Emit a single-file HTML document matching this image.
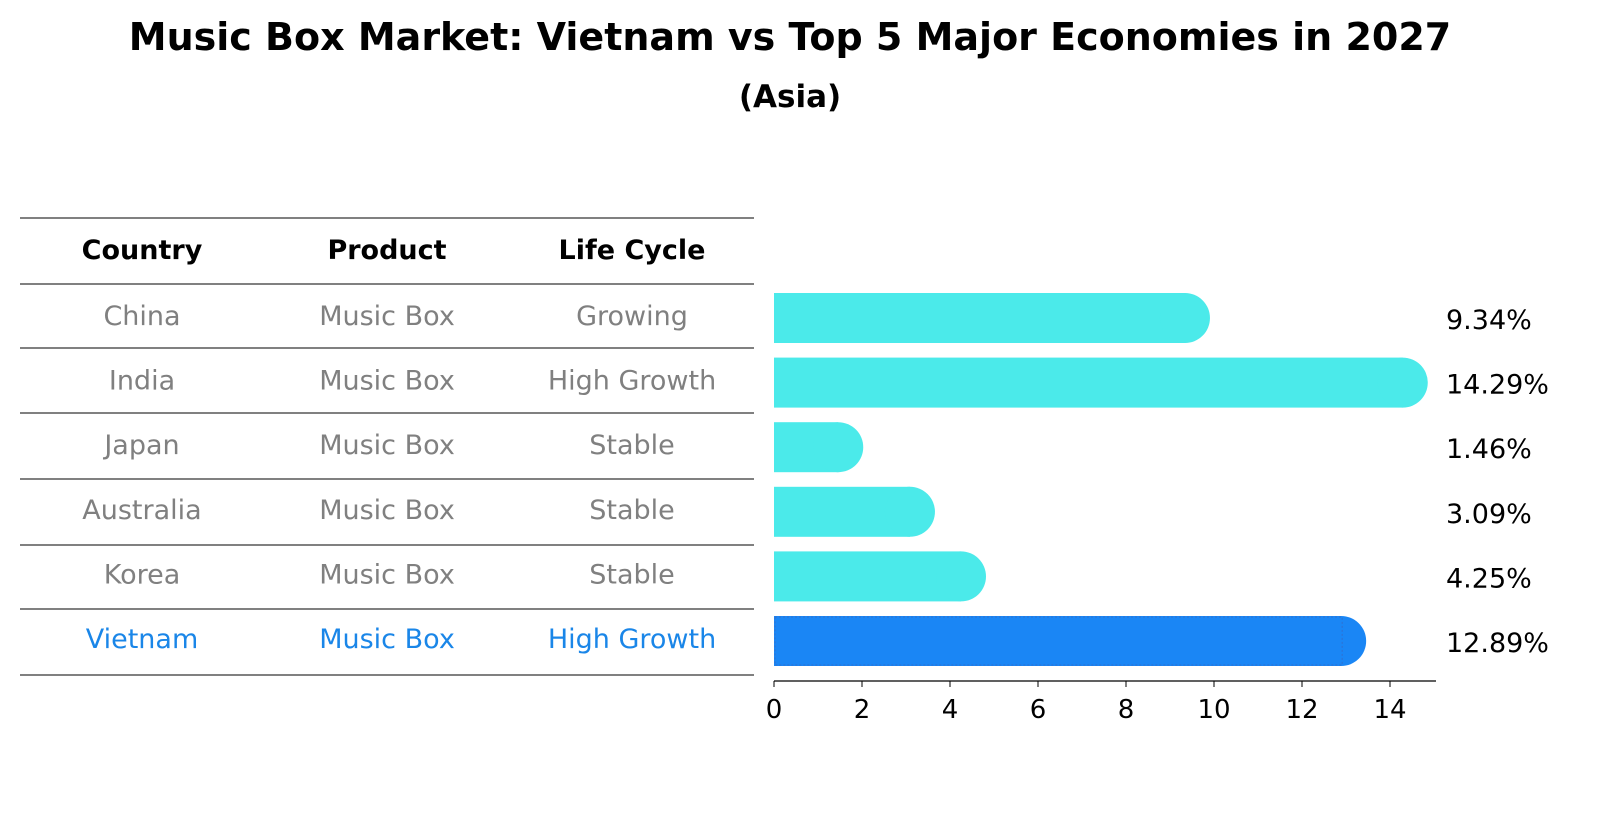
<!DOCTYPE html>
<html><head><meta charset="utf-8"><style>
body{margin:0;background:#fff;font-family:"DejaVu Sans","Liberation Sans",sans-serif;}
</style></head><body>
<svg width="1604" height="823" xmlns="http://www.w3.org/2000/svg" font-family="DejaVu Sans, Liberation Sans, sans-serif">
<text x="790" y="50" text-anchor="middle" font-size="38" font-weight="bold">Music Box Market: Vietnam vs Top 5 Major Economies in 2027</text>
<text x="790" y="107" text-anchor="middle" font-size="31" font-weight="bold">(Asia)</text>
<g id="table"></g>
<g id="bars"></g>
</svg>
<script>
const countries=["China","India","Japan","Australia","Korea","Vietnam"];
const products=["Music Box","Music Box","Music Box","Music Box","Music Box","Music Box"];
const lifeCycles=["Growing","High Growth","Stable","Stable","Stable","High Growth"];
const values=[9.34,14.29,1.46,3.09,4.25,12.89];
const valueLabels=["9.34%","14.29%","1.46%","3.09%","4.25%","12.89%"];
const xTicks=[0,2,4,6,8,10,12,14];
const NS="http://www.w3.org/2000/svg";
function mk(t,a,p){const e=document.createElementNS(NS,t);for(const k in a)e.setAttribute(k,a[k]);p.appendChild(e);return e;}
const tbl=document.getElementById('table'),bars=document.getElementById('bars');
const lineYs=[218,284,348,413,479,545,609,675];
const colX=[142,387,632];
function rowY(i){return 316+i*64.6;}
lineYs.forEach(y=>{const l=mk('line',{x1:20,x2:754,y1:y,y2:y,stroke:'#000','stroke-width':1},tbl);

});
["Country","Product","Life Cycle"].forEach((h,j)=>{const t=mk('text',{x:colX[j],y:259,'text-anchor':'middle','font-size':27,'font-weight':'bold'},tbl);t.textContent=h;

});
countries.forEach((c,i)=>{const col=i===5?'#1a86e8':'#808080';[c,products[i],lifeCycles[i]].forEach((v,j)=>{const t=mk('text',{x:colX[j],y:rowY(i)+9,'text-anchor':'middle','font-size':27,fill:col},tbl);t.textContent=v;

});});
const x0=774,ppu=44;function sx(v){return x0+v*ppu;}
const bh=50,r=25;
values.forEach((v,i)=>{const cy=rowY(i)+2;const col=i===5?'#1a86f5':'#4beaea';
const g=mk('g',{},bars);


mk('rect',{x:x0,y:cy-bh/2,width:sx(v)-x0,height:bh,fill:col},g);
mk('circle',{cx:sx(v),cy:cy,r:r,fill:col},g);
if(i===5)mk('rect',{x:x0+1,y:cy-bh/2+1,width:sx(v)-x0,height:bh-2,fill:'none',stroke:'#3070d0','stroke-dasharray':'2,2','stroke-width':1},g);
const t=mk('text',{x:1446,y:cy+11,'font-size':27},bars);t.textContent=valueLabels[i];

});
const ax=mk('line',{x1:x0,x2:1436,y1:681,y2:681,stroke:'#000','stroke-width':1.3},bars);


xTicks.forEach(v=>{mk('line',{x1:sx(v),x2:sx(v),y1:681,y2:687,stroke:'#000'},bars);
const t=mk('text',{x:sx(v),y:718,'text-anchor':'middle','font-size':26},bars);t.textContent=v;

});
</script>
</body></html>
